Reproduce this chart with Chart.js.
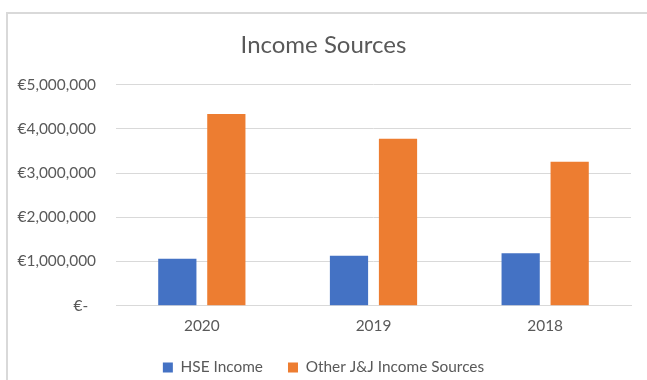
<!DOCTYPE html>
<html>
<head>
<meta charset="utf-8">
<script src="https://cdn.jsdelivr.net/npm/chart.js@4.4.1/dist/chart.umd.min.js"></script>
<style>
  html, body { margin: 0; padding: 0; background: #ffffff; }
  #wrap { position: relative; width: 647px; height: 380px; overflow: hidden; }
  #frame { position: absolute; left: 6px; top: 12px; width: 700px; height: 400px;
           border-left: 2px solid #d9d9d9; border-top: 2px solid #d9d9d9; box-sizing: border-box; pointer-events: none; }
  canvas { position: absolute; left: 0; top: 0; }
</style>
</head>
<body>
<div id="wrap">
  <canvas id="c" width="647" height="380"></canvas>
  <div id="frame"></div>
</div>
<script>
const categories = ["2020", "2019", "2018"];
const hseIncome = [1060000, 1130000, 1190000];
const otherIncome = [4340000, 3780000, 3260000];
const seriesNames = ["HSE Income", "Other J&J Income Sources"];
const yTicks = [0, 1000000, 2000000, 3000000, 4000000, 5000000];
const titleText = "Income Sources";

const FONT = "Lato, 'Open Sans', sans-serif";
const TXT = "#595959";

function fmt(v) {
  if (v === 0) return "€-  ";
  return "€" + v.toLocaleString("en-US");
}

const legendHeightPlugin = {
  id: "legendHeight",
  beforeLayout(chart) {
    const lg = chart.legend;
    if (lg && !lg._patched) {
      const f = lg.fit.bind(lg);
      lg.fit = function () { f(); this.height = 45.3; };
      lg._patched = true;
    }
  }
};

new Chart(document.getElementById("c"), {
  type: "bar",
  data: {
    labels: categories,
    datasets: [
      { label: seriesNames[0], data: hseIncome, backgroundColor: "#4472C4",
        barPercentage: 0.78, categoryPercentage: 0.571 },
      { label: seriesNames[1], data: otherIncome, backgroundColor: "#ED7D31",
        barPercentage: 0.78, categoryPercentage: 0.571 }
    ]
  },
  plugins: [legendHeightPlugin],
  options: {
    responsive: false,
    animation: false,
    devicePixelRatio: 1,
    layout: { padding: { left: 0, right: 0, top: 0, bottom: 0 } },
    plugins: {
      title: {
        display: true, text: titleText, color: TXT,
        font: { family: FONT, size: 24, weight: "normal" },
        padding: { top: 31, bottom: 25 }
      },
      legend: {
        position: "bottom",
        labels: { color: TXT, font: { family: FONT, size: 15.4 }, boxWidth: 10, boxHeight: 10, padding: 25 }
      },
      tooltip: { enabled: false }
    },
    scales: {
      x: {
        grid: { display: false },
        border: { display: true, color: "#d9d9d9", width: 1 },
        ticks: { color: TXT, font: { family: FONT, size: 15.4, lineHeight: 1 }, padding: 5 },
        afterFit: (s) => { s.height = 29; }
      },
      y: {
        min: 0, max: 5000000,
        afterBuildTicks: (s) => { s.ticks = yTicks.map(v => ({ value: v })); },
        grid: { color: "#d9d9d9", lineWidth: 1, drawTicks: false },
        border: { display: false },
        ticks: { color: TXT, font: { family: FONT, size: 15.4 }, padding: 20, callback: (v) => fmt(v) },
        afterFit: (s) => { s.width = 116; }
      },
      yr: {
        position: "right",
        min: 0, max: 1,
        grid: { display: false, drawOnChartArea: false },
        border: { display: false },
        ticks: { display: false },
        afterFit: (s) => { s.width = 16; }
      }
    }
  }
});
</script>
</body>
</html>
